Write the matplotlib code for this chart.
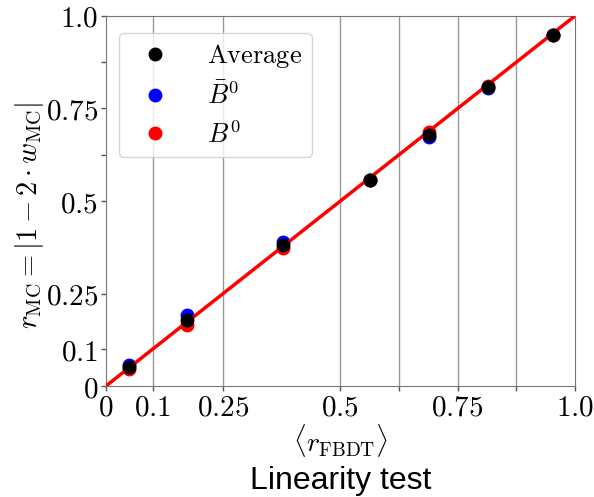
import matplotlib
matplotlib.use("Agg")
import matplotlib.pyplot as plt
from matplotlib.ticker import FixedLocator, FixedFormatter

plt.rcParams["mathtext.fontset"] = "cm"
plt.rcParams["font.family"] = "serif"
plt.rcParams["font.serif"] = ["DejaVu Serif"]

# bin means of the FBDT output and measured MC dilution
r_fbdt = [0.05, 0.173, 0.378, 0.563, 0.688, 0.814, 0.954]
r_avg = [0.052, 0.178, 0.381, 0.557, 0.678, 0.808, 0.949]
r_b0bar = [0.057, 0.192, 0.389, 0.557, 0.673, 0.805, 0.949]
r_b0 = [0.046, 0.165, 0.373, 0.557, 0.686, 0.811, 0.949]

major_ticks = [0, 0.1, 0.25, 0.5, 0.75, 1.0]
major_labels = ["$0$", "$0.1$", "$0.25$", "$0.5$", "$0.75$", "$1.0$"]
minor_ticks = [0.625, 0.875]

fig = plt.figure(figsize=(5.94, 4.97), dpi=100)
ax = fig.add_axes([0.178, 0.223, 0.79, 0.745])

ax.plot(r_fbdt, r_b0bar, "o", color="blue", ms=9, label=r"$\bar{B}^0$", zorder=3)
ax.plot(r_fbdt, r_b0, "o", color="red", ms=9, label=r"$B^0$", zorder=3)
ax.plot([0, 1], [0, 1], color="red", lw=2.5, zorder=4)
ax.plot(r_fbdt, r_avg, "o", color="black", ms=9, label=r"$\mathrm{Average}$", zorder=5)

ax.set_xlim(0, 1)
ax.set_ylim(0, 1)

for axis in (ax.xaxis, ax.yaxis):
    axis.set_major_locator(FixedLocator(major_ticks))
    axis.set_major_formatter(FixedFormatter(major_labels))
    axis.set_minor_locator(FixedLocator(minor_ticks))

ax.tick_params(which="both", direction="out", length=3.5, width=1, color="#555555",
               labelsize=21, pad=2)

# vertical lines at the bin edges
for edge in [0.1, 0.25, 0.5, 0.625, 0.75, 0.875]:
    ax.axvline(edge, color="#999999", lw=1, zorder=1)

for s in ax.spines.values():
    s.set_color("#777777")

ax.set_xlabel(r"$\langle r_{\mathrm{FBDT}} \rangle$", fontsize=20, labelpad=0)
ax.set_ylabel(r"$r_{\mathrm{MC}} = |1 - 2 \cdot w_{\mathrm{MC}}|$", fontsize=20.5)
ax.yaxis.set_label_coords(-0.128, 0.46)

handles, labels = ax.get_legend_handles_labels()
order = [2, 0, 1]
ax.legend([handles[i] for i in order], [labels[i] for i in order],
          loc="upper left", fontsize=19, frameon=True, fancybox=True,
          borderpad=0.35, labelspacing=0.45, handletextpad=1.0,
          bbox_to_anchor=(0.0, 0.99))

fig.text(0.573, 0.016, "Linearity test", family="Liberation Sans", fontsize=23,
         ha="center", va="baseline")

fig.savefig("out.png", dpi=100)
